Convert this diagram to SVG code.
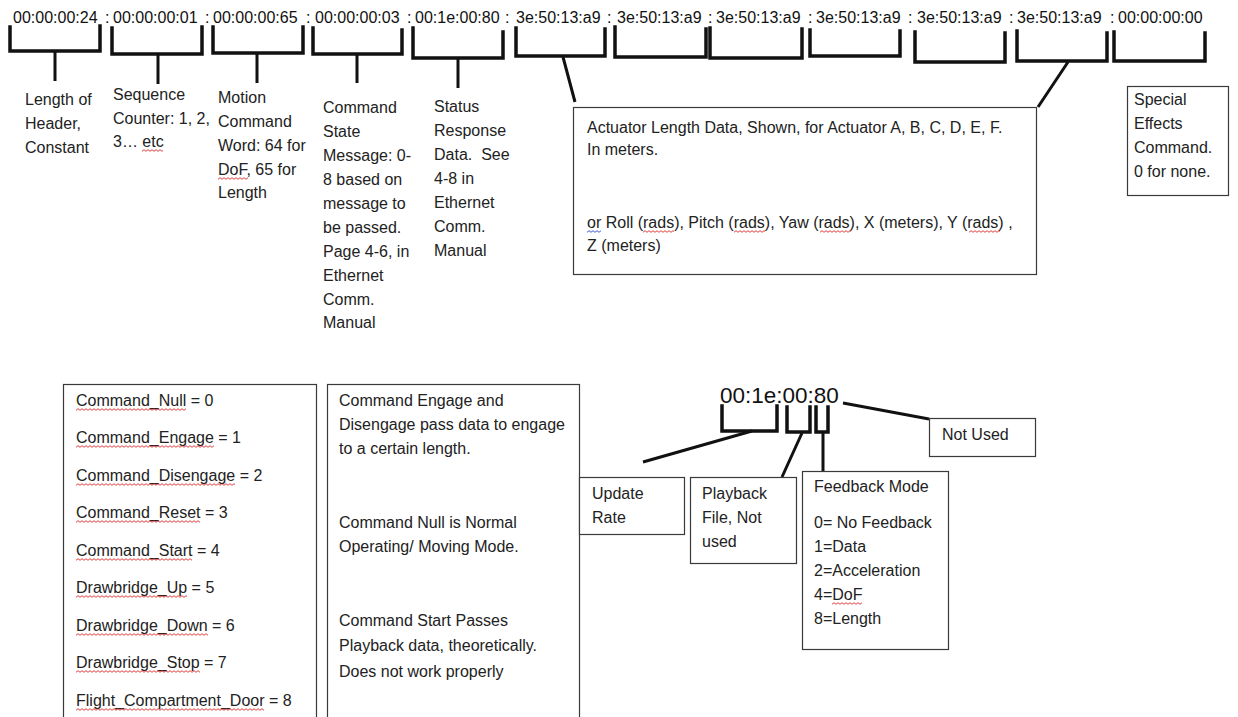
<svg xmlns="http://www.w3.org/2000/svg" width="1238" height="717" viewBox="0 0 1238 717">
<style>
.t{font-family:"Liberation Sans",Arial,sans-serif;font-size:16px;fill:#222}
.hex{font-family:"Liberation Sans",Arial,sans-serif;font-size:16px;fill:#111}
.hexbig{font-family:"Liberation Sans",Arial,sans-serif;font-size:22.5px;fill:#111}
.box{fill:#fff;stroke:#3a3a3a;stroke-width:1.2}
.br{fill:none;stroke:#111;stroke-width:3.5;stroke-linecap:square}
.ln{fill:none;stroke:#111;stroke-width:3}
.sq{fill:url(#wave-red)}
.sqb{fill:url(#wave-blue)}
</style>
<defs>
<pattern id="wave-red" width="4" height="3" patternUnits="userSpaceOnUse">
<path d="M0 2.3L2 0.7L4 2.3" fill="none" stroke="#e02828" stroke-width="0.9"/>
</pattern>
<pattern id="wave-blue" width="4" height="3" patternUnits="userSpaceOnUse">
<path d="M0 2.3L2 0.7L4 2.3" fill="none" stroke="#2848d8" stroke-width="0.9"/>
</pattern>
</defs>
<rect width="1238" height="717" fill="#fff"/>

<g id="hex-message">
<text class="hex" y="23"><tspan x="13">00:00:00:24</tspan><tspan x="105">:</tspan><tspan x="113">00:00:00:01</tspan><tspan x="205">:</tspan><tspan x="213">00:00:00:65</tspan><tspan x="306">:</tspan><tspan x="315">00:00:00:03</tspan><tspan x="407">:</tspan><tspan x="415">00:1e:00:80</tspan><tspan x="505">:</tspan><tspan x="516">3e:50:13:a9</tspan><tspan x="607">:</tspan><tspan x="617">3e:50:13:a9</tspan><tspan x="708">:</tspan><tspan x="716">3e:50:13:a9</tspan><tspan x="808">:</tspan><tspan x="816">3e:50:13:a9</tspan><tspan x="908">:</tspan><tspan x="917">3e:50:13:a9</tspan><tspan x="1009">:</tspan><tspan x="1017">3e:50:13:a9</tspan><tspan x="1110">:</tspan><tspan x="1118">00:00:00:00</tspan></text>
</g>

<g id="connectors">
<path class="br" d="M10 27V51H100V26"/>
<path class="br" d="M112 28V54H202V27"/>
<path class="br" d="M213 27V53H303V27"/>
<path class="br" d="M313 28V54H402V30"/>
<path class="br" d="M413 28V58H503V32"/>
<path class="br" d="M516 28V56H605V29"/>
<path class="br" d="M615 27V57H706V29"/>
<path class="br" d="M710 28V58H802V29"/>
<path class="br" d="M810 30V56H900V31"/>
<path class="br" d="M915 32V62H1005V33"/>
<path class="br" d="M1017 31V61H1107V33"/>
<path class="br" d="M1114 32V61H1205V33"/>
<path class="ln" d="M55 52V81M158 55V84M257 54V83M357 55V83M458 59V88M563 57L575 102M1068 62L1038 107" stroke-width="3.5"/>
<path class="br" d="M722 406V431H777V406" stroke-width="3"/>
<path class="br" d="M787 407V432H810V407" stroke-width="3"/>
<path class="br" d="M816 407V432H828V407" stroke-width="3"/>
<path class="ln" d="M823 432V471M752 431L643 462M802 433L782 477M843 403L929 419"/>
</g>

<g id="label-header">
<text class="t" x="25" y="105">Length of</text>
<text class="t" x="25" y="129">Header,</text>
<text class="t" x="25" y="153">Constant</text>
</g>
<g id="label-sequence">
<text class="t" x="113" y="100">Sequence</text>
<text class="t" x="113" y="124">Counter: 1, 2,</text>
<text class="t" x="113" y="147">3… etc</text>
<rect class="sq" transform="translate(142,149)" width="21" height="3"/>
</g>
<g id="label-motion">
<text class="t" x="218" y="103">Motion</text>
<text class="t" x="218" y="127">Command</text>
<text class="t" x="218" y="151">Word: 64 for</text>
<text class="t" x="218" y="175">DoF, 65 for</text>
<rect class="sq" transform="translate(218,177)" width="30" height="3"/>
<text class="t" x="218" y="198">Length</text>
</g>
<g id="label-command-state">
<text class="t" x="323" y="113">Command</text>
<text class="t" x="323" y="137">State</text>
<text class="t" x="323" y="161">Message: 0-</text>
<text class="t" x="323" y="185">8 based on</text>
<text class="t" x="323" y="209">message to</text>
<text class="t" x="323" y="233">be passed.</text>
<text class="t" x="323" y="257">Page 4-6, in</text>
<text class="t" x="323" y="281">Ethernet</text>
<text class="t" x="323" y="305">Comm.</text>
<text class="t" x="323" y="328">Manual</text>
</g>
<g id="label-status">
<text class="t" x="434" y="112">Status</text>
<text class="t" x="434" y="136">Response</text>
<text class="t" x="434" y="160" xml:space="preserve">Data.  See</text>
<text class="t" x="434" y="184">4-8 in</text>
<text class="t" x="434" y="208">Ethernet</text>
<text class="t" x="434" y="232">Comm.</text>
<text class="t" x="434" y="256">Manual</text>
</g>
<g id="box-actuator">
<rect class="box" x="573.5" y="107.5" width="463" height="167"/>
<text class="t" x="587" y="133">Actuator Length Data, Shown, for Actuator A, B, C, D, E, F.</text>
<text class="t" x="587" y="155">In meters.</text>
<text class="t" x="587" y="228">or Roll (rads), Pitch (rads), Yaw (rads), X (meters), Y (rads) ,</text>
<rect class="sqb" transform="translate(587,230)" width="14" height="3"/>
<rect class="sq" transform="translate(643,230)" width="31" height="3"/>
<rect class="sq" transform="translate(734,230)" width="31" height="3"/>
<rect class="sq" transform="translate(820,230)" width="31" height="3"/>
<rect class="sq" transform="translate(969,230)" width="31" height="3"/>
<text class="t" x="587" y="251">Z (meters)</text>
</g>
<g id="box-special">
<rect class="box" x="1127.5" y="86.5" width="101" height="109"/>
<text class="t" x="1134" y="105">Special</text>
<text class="t" x="1134" y="129">Effects</text>
<text class="t" x="1134" y="153">Command.</text>
<text class="t" x="1134" y="177">0 for none.</text>
</g>
<g id="box-command-list">
<rect class="box" x="63.5" y="384.5" width="253" height="360"/>
<text class="t" x="76" y="406">Command_Null = 0</text>
<rect class="sq" transform="translate(76,408)" width="110" height="3"/>
<text class="t" x="76" y="443">Command_Engage = 1</text>
<rect class="sq" transform="translate(76,445)" width="138" height="3"/>
<text class="t" x="76" y="481">Command_Disengage = 2</text>
<rect class="sq" transform="translate(76,483)" width="159" height="3"/>
<text class="t" x="76" y="518">Command_Reset = 3</text>
<rect class="sq" transform="translate(76,520)" width="124" height="3"/>
<text class="t" x="76" y="556">Command_Start = 4</text>
<rect class="sq" transform="translate(76,558)" width="116" height="3"/>
<text class="t" x="76" y="593">Drawbridge_Up = 5</text>
<rect class="sq" transform="translate(76,595)" width="111" height="3"/>
<text class="t" x="76" y="631">Drawbridge_Down = 6</text>
<rect class="sq" transform="translate(76,633)" width="132" height="3"/>
<text class="t" x="76" y="668">Drawbridge_Stop = 7</text>
<rect class="sq" transform="translate(76,670)" width="124" height="3"/>
<text class="t" x="76" y="706">Flight_Compartment_Door = 8</text>
<rect class="sq" transform="translate(76,708)" width="188" height="3"/>
</g>
<g id="box-command-notes">
<rect class="box" x="327.5" y="384.5" width="252" height="360"/>
<text class="t" x="339" y="406">Command Engage and</text>
<text class="t" x="339" y="430">Disengage pass data to engage</text>
<text class="t" x="339" y="454">to a certain length.</text>
<text class="t" x="339" y="528">Command Null is Normal</text>
<text class="t" x="339" y="552">Operating/ Moving Mode.</text>
<text class="t" x="339" y="626">Command Start Passes</text>
<text class="t" x="339" y="651">Playback data, theoretically.</text>
<text class="t" x="339" y="677">Does not work properly</text>
</g>
<g id="status-bytes">
<text class="hexbig" x="720" y="403">00:1e:00:80</text>
</g>
<g id="box-not-used">
<rect class="box" x="929.5" y="418.5" width="106" height="38"/>
<text class="t" x="942" y="440">Not Used</text>
</g>
<g id="box-update-rate">
<rect class="box" x="579.5" y="477.5" width="105" height="57"/>
<text class="t" x="592" y="499">Update</text>
<text class="t" x="592" y="523">Rate</text>
</g>
<g id="box-playback">
<rect class="box" x="690.5" y="477.5" width="106" height="86"/>
<text class="t" x="702" y="499">Playback</text>
<text class="t" x="702" y="523">File, Not</text>
<text class="t" x="702" y="547">used</text>
</g>
<g id="box-feedback">
<rect class="box" x="802.5" y="471.5" width="146" height="178"/>
<text class="t" x="814" y="492">Feedback Mode</text>
<text class="t" x="814" y="528">0= No Feedback</text>
<text class="t" x="814" y="552">1=Data</text>
<text class="t" x="814" y="576">2=Acceleration</text>
<text class="t" x="814" y="600">4=DoF</text>
<rect class="sq" transform="translate(832,602)" width="30" height="3"/>
<text class="t" x="814" y="624">8=Length</text>
</g>
</svg>
